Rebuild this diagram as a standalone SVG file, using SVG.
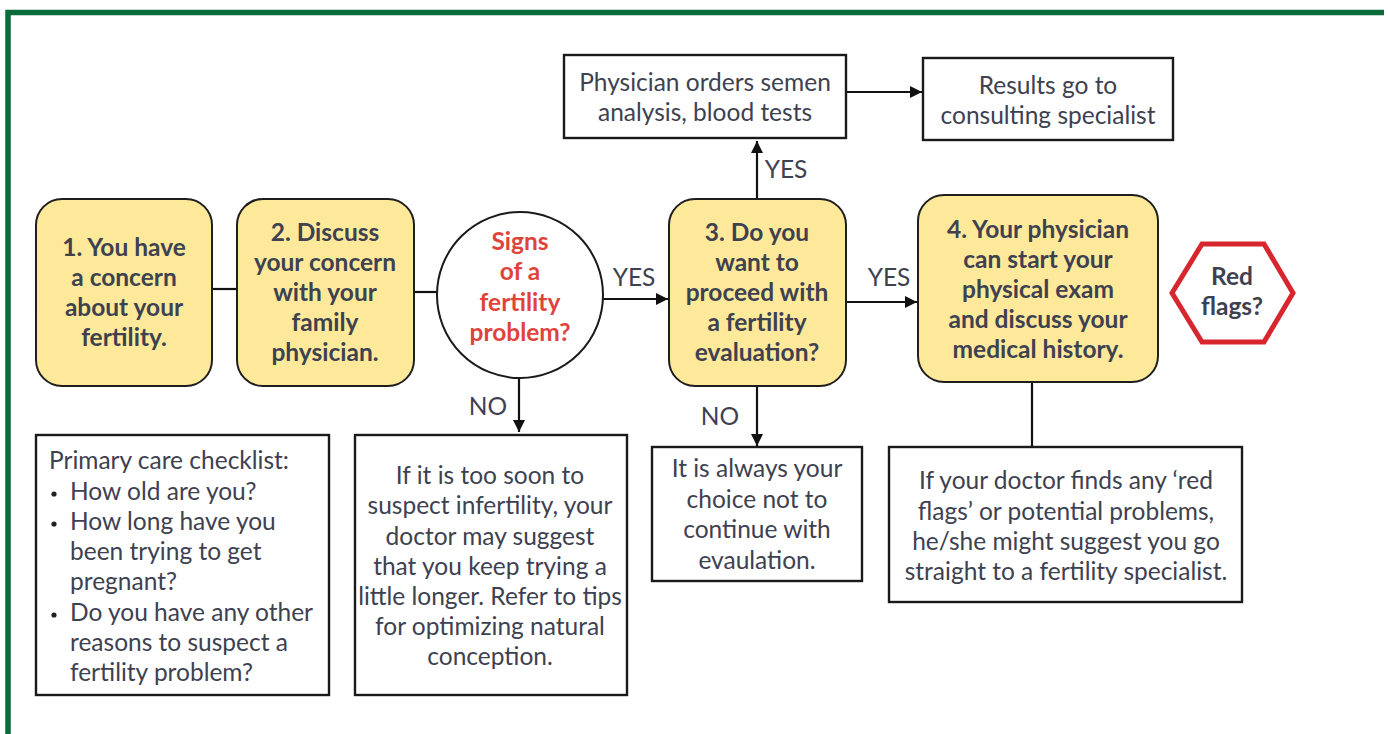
<svg xmlns="http://www.w3.org/2000/svg" width="1388" height="734" viewBox="0 0 1388 734">
<style>
.t{font-family:Lato,"Open Sans","Noto Sans",sans-serif;font-size:24.5px;fill:#3d4150;text-anchor:middle}
.b{font-weight:700}
.red{fill:#e0433b}
.l{text-anchor:start}
.y{fill:#fee99a;stroke:#1e1e1e;stroke-width:2}
.box{fill:#fff;stroke:#1a1a1a;stroke-width:2.4}
.ln{stroke:#111;stroke-width:2.2;fill:none}
</style>
<defs>
<marker id="ah" markerUnits="userSpaceOnUse" markerWidth="14" markerHeight="14" refX="12" refY="6" orient="auto">
<path d="M0,0 L12,6 L0,12 z" fill="#111"/>
</marker>
</defs>
<rect width="1388" height="734" fill="#fff"/>
<path d="M8,734 V12.5 H1384" fill="none" stroke="#0a6b3b" stroke-width="5.5"/>

<g id="connectors">
<line class="ln" x1="212" y1="289" x2="237" y2="289"/>
<line class="ln" x1="414" y1="292" x2="438" y2="292"/>
<line class="ln" x1="603" y1="299" x2="668" y2="299" marker-end="url(#ah)"/>
<line class="ln" x1="757" y1="199" x2="757" y2="141" marker-end="url(#ah)"/>
<line class="ln" x1="846" y1="92" x2="922" y2="92" marker-end="url(#ah)"/>
<line class="ln" x1="846" y1="302" x2="917" y2="302" marker-end="url(#ah)"/>
<line class="ln" x1="519" y1="377" x2="519" y2="432" marker-end="url(#ah)"/>
<line class="ln" x1="757" y1="386" x2="757" y2="446" marker-end="url(#ah)"/>
<line class="ln" x1="1032" y1="382" x2="1032" y2="447"/>
<text class="t" x="634" y="286">YES</text>
<text class="t" x="786" y="178">YES</text>
<text class="t" x="889" y="286">YES</text>
<text class="t" x="488" y="415">NO</text>
<text class="t" x="720" y="425">NO</text>
</g>

<g id="n1">
<rect class="y" x="36" y="199" width="176" height="187" rx="26"/>
<text class="t b" x="124" y="256">1. You have</text>
<text class="t b" x="124" y="286">a concern</text>
<text class="t b" x="124" y="316">about your</text>
<text class="t b" x="124" y="346">fertility.</text>
</g>

<g id="n2">
<rect class="y" x="237" y="199" width="177" height="187" rx="26"/>
<text class="t b" x="325" y="241">2. Discuss</text>
<text class="t b" x="325" y="271">your concern</text>
<text class="t b" x="325" y="301">with your</text>
<text class="t b" x="325" y="331">family</text>
<text class="t b" x="325" y="361">physician.</text>
</g>

<g id="signs">
<circle cx="520" cy="295" r="83" fill="#fff" stroke="#1a1a1a" stroke-width="2"/>
<text class="t b red" x="520" y="250">Signs</text>
<text class="t b red" x="520" y="280">of a</text>
<text class="t b red" x="520" y="311">fertility</text>
<text class="t b red" x="520" y="341">problem?</text>
</g>

<g id="n3">
<rect class="y" x="669" y="199" width="177" height="187" rx="26"/>
<text class="t b" x="757" y="241">3. Do you</text>
<text class="t b" x="757" y="271">want to</text>
<text class="t b" x="757" y="301">proceed with</text>
<text class="t b" x="757" y="331">a fertility</text>
<text class="t b" x="757" y="361">evaluation?</text>
</g>

<g id="orders">
<rect class="box" x="564" y="55" width="282" height="83"/>
<text class="t" x="705" y="91">Physician orders semen</text>
<text class="t" x="705" y="121">analysis, blood tests</text>
</g>

<g id="results">
<rect class="box" x="923" y="58" width="250" height="82"/>
<text class="t" x="1048" y="94">Results go to</text>
<text class="t" x="1048" y="124">consulting specialist</text>
</g>

<g id="n4">
<rect class="y" x="918" y="195" width="240" height="187" rx="26"/>
<text class="t b" x="1038" y="238">4. Your physician</text>
<text class="t b" x="1038" y="268">can start your</text>
<text class="t b" x="1038" y="298">physical exam</text>
<text class="t b" x="1038" y="328">and discuss your</text>
<text class="t b" x="1038" y="358">medical history.</text>
</g>

<g id="redflags">
<polygon points="1172,293 1202,244 1264,244 1293,293 1264,342 1202,342" fill="#fff" stroke="#d8262e" stroke-width="5"/>
<text class="t b" x="1232" y="285">Red</text>
<text class="t b" x="1232" y="315">flags?</text>
</g>

<g id="checklist">
<rect class="box" x="36" y="435" width="293" height="260"/>
<text class="t l" x="49" y="469">Primary care checklist:</text>
<circle cx="54" cy="494" r="2.6" fill="#222"/>
<text class="t l" x="70" y="500">How old are you?</text>
<circle cx="54" cy="524" r="2.6" fill="#222"/>
<text class="t l" x="70" y="530">How long have you</text>
<text class="t l" x="70" y="560">been trying to get</text>
<text class="t l" x="70" y="590">pregnant?</text>
<circle cx="54" cy="615" r="2.6" fill="#222"/>
<text class="t l" x="70" y="621">Do you have any other</text>
<text class="t l" x="70" y="651">reasons to suspect a</text>
<text class="t l" x="70" y="681">fertility problem?</text>
</g>

<g id="toosoon">
<rect class="box" x="355" y="435" width="272" height="260"/>
<text class="t" x="490" y="484">If it is too soon to</text>
<text class="t" x="490" y="514">suspect infertility, your</text>
<text class="t" x="490" y="545">doctor may suggest</text>
<text class="t" x="490" y="575">that you keep trying a</text>
<text class="t" x="490" y="605">little longer. Refer to tips</text>
<text class="t" x="490" y="635">for optimizing natural</text>
<text class="t" x="490" y="665">conception.</text>
</g>

<g id="always">
<rect class="box" x="652" y="447" width="210" height="134"/>
<text class="t" x="757" y="477">It is always your</text>
<text class="t" x="757" y="508">choice not to</text>
<text class="t" x="757" y="538">continue with</text>
<text class="t" x="757" y="569">evaulation.</text>
</g>

<g id="specialist">
<rect class="box" x="889" y="447" width="353" height="155"/>
<text class="t" x="1066" y="489">If your doctor finds any ‘red</text>
<text class="t" x="1066" y="520">flags’ or potential problems,</text>
<text class="t" x="1066" y="550">he/she might suggest you go</text>
<text class="t" x="1066" y="580">straight to a fertility specialist.</text>
</g>
</svg>
